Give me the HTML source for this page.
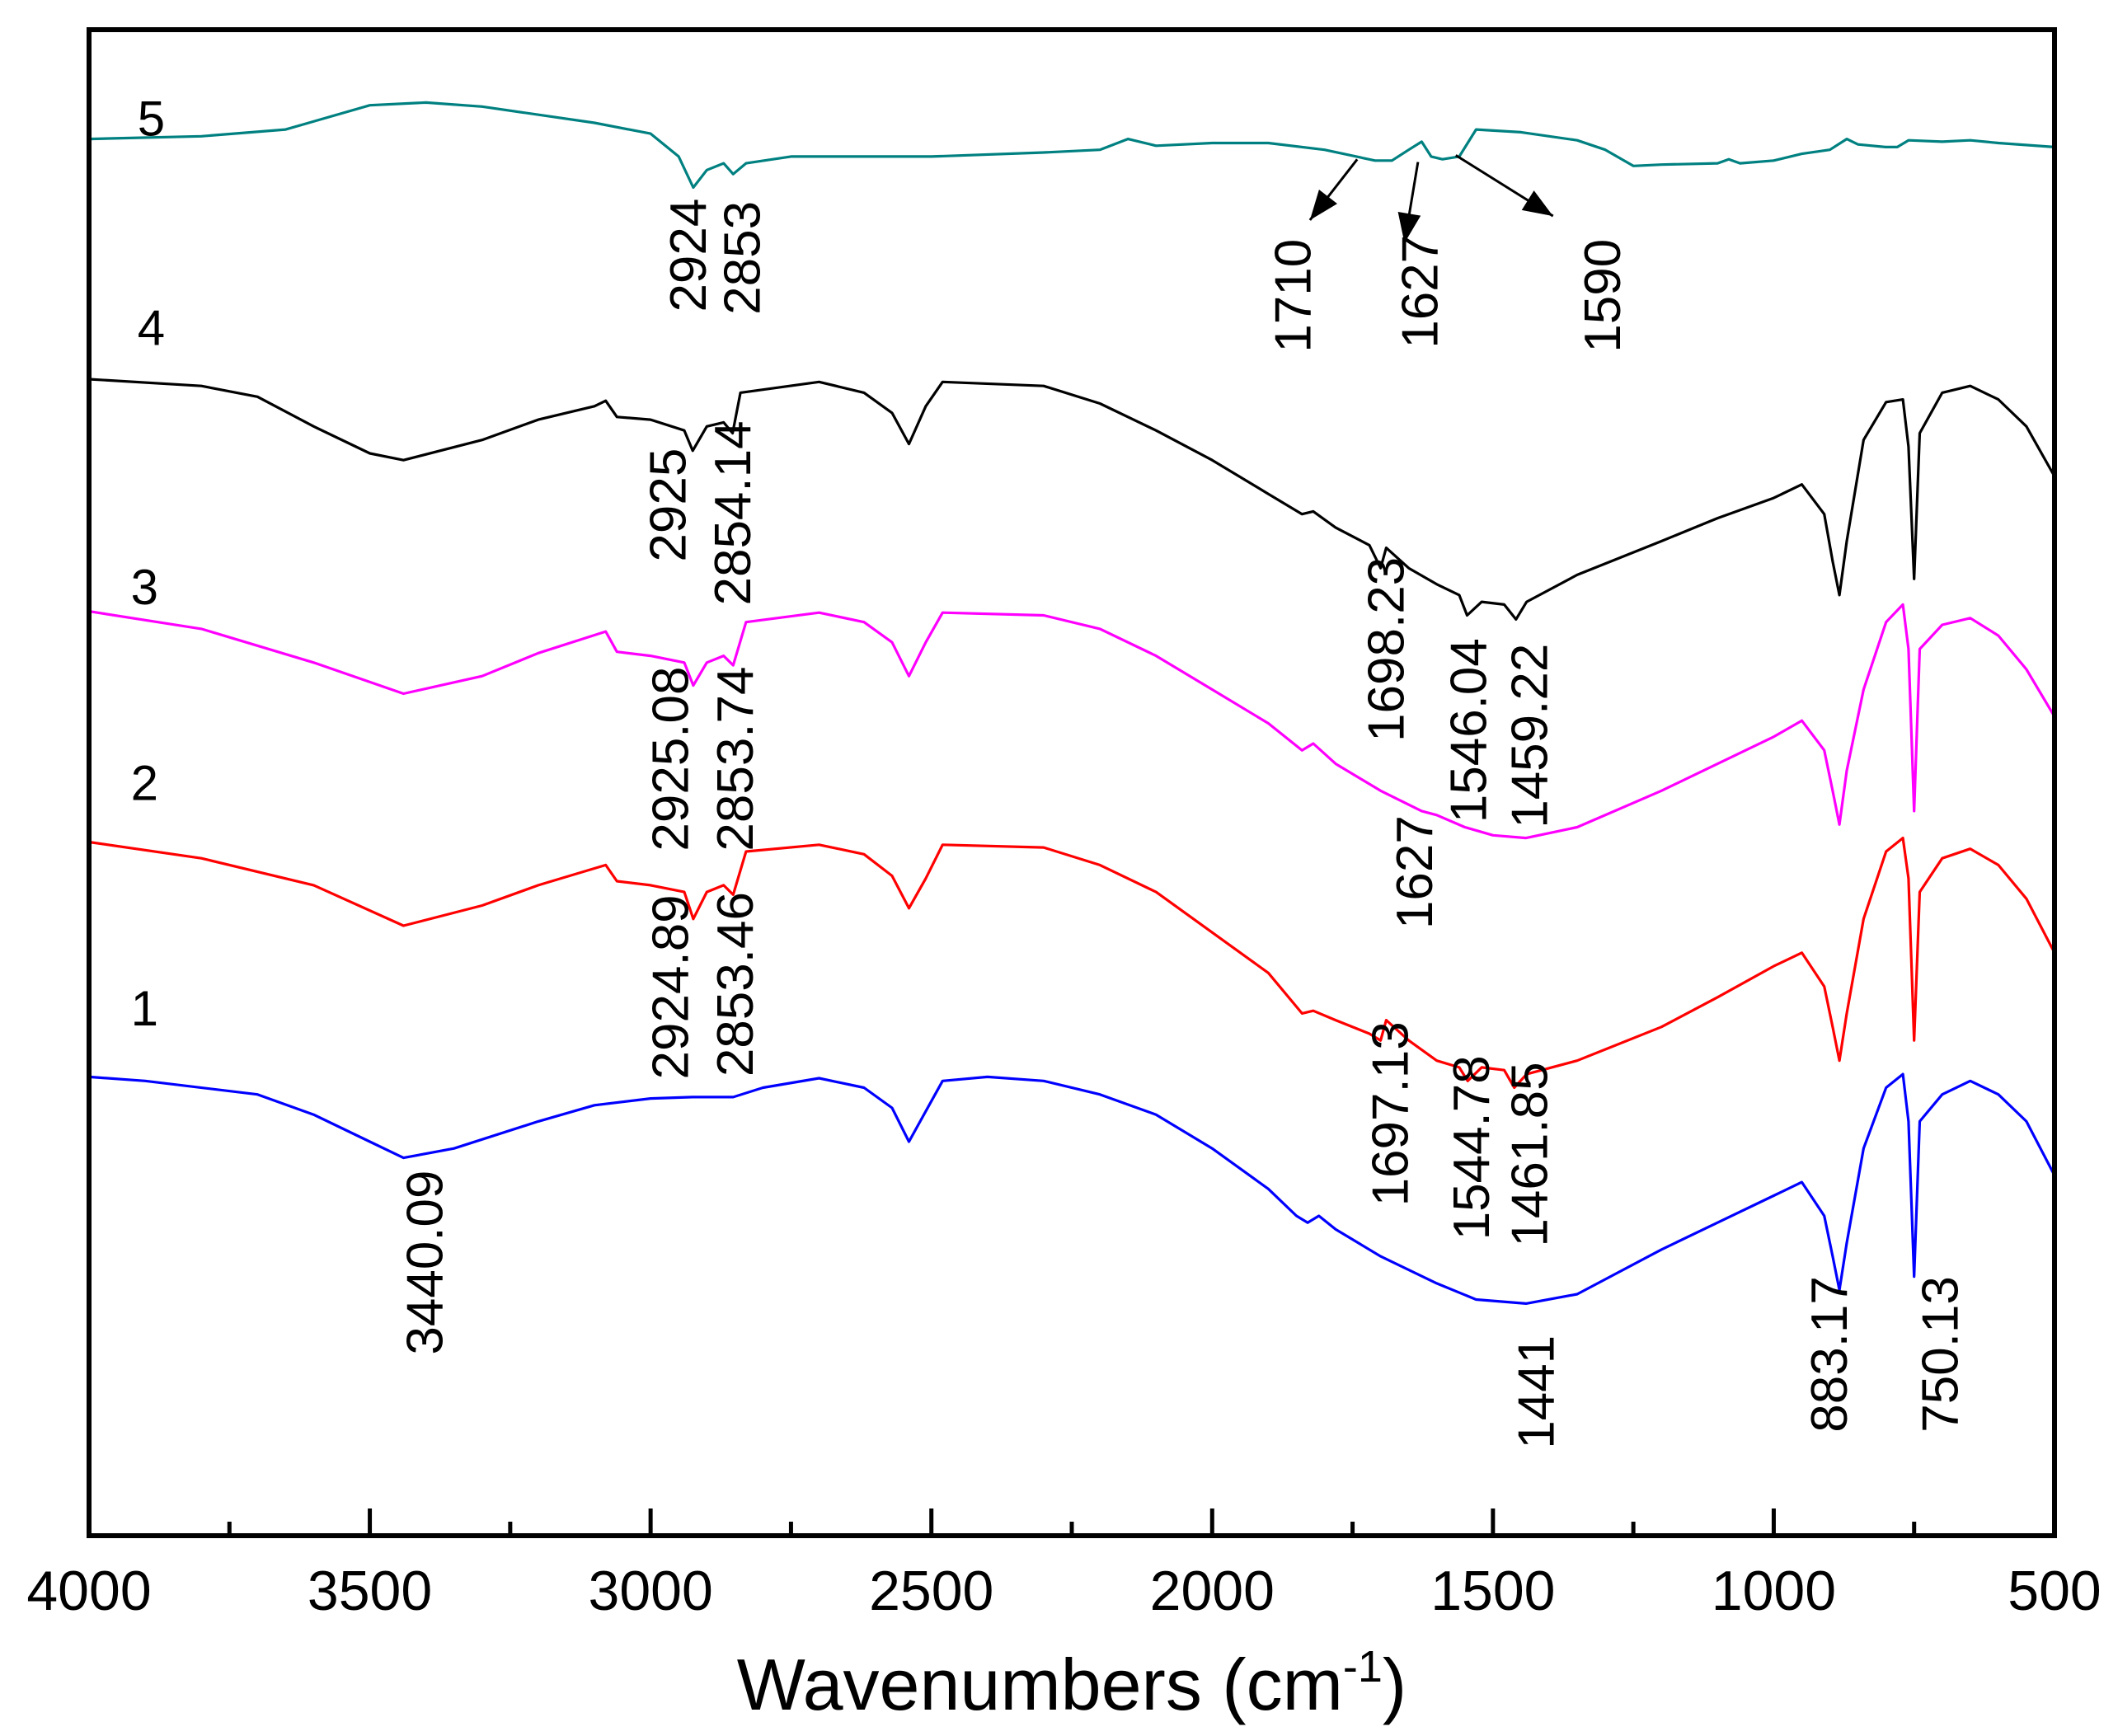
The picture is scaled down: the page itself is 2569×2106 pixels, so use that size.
<!DOCTYPE html>
<html><head><meta charset="utf-8">
<style>
html,body{margin:0;padding:0;background:#fff;}
svg{display:block;font-family:"Liberation Sans",Arial,sans-serif;}
</style></head>
<body>
<svg id="chart" width="2569" height="2106" viewBox="0 0 2569 2106" xmlns="http://www.w3.org/2000/svg">
<rect x="0" y="0" width="2569" height="2106" fill="#fff"/>
<g id="curves"></g>
<g id="annots"></g>
<rect x="108" y="36" width="2384" height="1827" fill="none" stroke="#000" stroke-width="6"/>
<g id="ticks"></g>
<text x="1300" y="2074" text-anchor="middle" font-size="88">Wavenumbers (cm<tspan dy="-34" font-size="54">-1</tspan><tspan dy="34">)</tspan></text>
</svg>
<script>
// ---- data (wavenumber cm-1, transmittance in arbitrary offset units; larger = lower on plot) ----
const wn1 = [4000,3900,3700,3600,3500,3440,3350,3200,3100,3000,2925,2853,2800,2700,2620,2570,2540,2520,2480,2400,2300,2200,2100,2000,1900,1850,1830,1810,1780,1700,1600,1530,1441,1350,1200,1100,1000,950,910,895,883,870,840,800,770,760,750,740,700,650,600,550,500];
const s1 = [797,800,810,825,845,857,850,830,818,813,812,812,805,798,805,820,845,830,800,797,800,810,825,850,880,900,905,900,910,930,950,962,965,958,925,905,885,875,900,930,955,920,850,805,795,830,945,830,810,800,810,830,870];
const wn2 = [4000,3800,3600,3440,3300,3200,3080,3060,3000,2940,2924,2900,2870,2853,2830,2700,2620,2570,2540,2510,2480,2300,2200,2100,2000,1900,1840,1820,1780,1720,1700,1690,1650,1600,1560,1545,1520,1480,1462,1440,1350,1200,1100,1000,950,910,895,883,870,840,800,770,760,750,740,700,650,600,550,500];
const s2 = [623,635,655,685,670,655,640,652,655,660,680,660,655,662,630,625,632,648,672,650,625,627,640,660,690,720,750,748,755,765,770,755,770,785,790,800,790,792,805,795,785,760,738,715,705,730,760,785,750,680,630,620,650,770,660,635,628,640,665,705];
const wn3 = [4000,3800,3600,3440,3300,3200,3080,3060,3000,2940,2924,2900,2870,2853,2830,2700,2620,2570,2540,2510,2480,2300,2200,2100,2000,1900,1840,1820,1780,1700,1627,1600,1550,1500,1441,1350,1200,1100,1000,950,910,895,883,870,840,800,770,760,750,740,700,650,600,550,500];
const s3 = [452,465,490,513,500,483,467,482,485,490,507,490,485,492,460,453,460,475,500,475,453,455,465,485,510,535,555,550,565,585,600,603,612,618,620,612,585,565,545,533,555,585,610,570,510,460,447,480,600,480,462,457,470,495,530];
const wn4 = [4000,3800,3700,3600,3500,3440,3300,3200,3100,3080,3060,3000,2940,2925,2900,2870,2854,2840,2700,2620,2570,2540,2510,2480,2300,2200,2100,2000,1900,1840,1820,1780,1720,1700,1690,1650,1600,1560,1546,1520,1480,1459,1440,1350,1200,1100,1000,950,910,895,883,870,840,800,770,760,750,740,700,650,600,550,500];
const s4 = [280,285,293,315,335,340,325,310,300,296,308,310,318,333,315,312,320,290,282,290,305,328,300,282,285,298,318,340,365,380,378,390,403,420,405,420,432,440,455,445,447,458,445,425,400,383,368,358,380,415,440,400,325,297,295,330,428,320,290,285,295,315,352];
const wn5 = [4000,3800,3650,3500,3400,3300,3100,3000,2950,2924,2900,2870,2853,2830,2750,2500,2300,2200,2150,2100,2000,1900,1800,1710,1680,1650,1627,1610,1590,1560,1530,1450,1350,1300,1250,1200,1100,1080,1060,1000,950,900,870,850,800,780,760,700,650,600,500];
const s5 = [102,100,95,77,75,78,90,98,115,138,125,120,128,120,115,115,112,110,102,107,105,105,110,118,118,110,104,115,117,115,95,97,103,110,122,121,120,117,120,118,113,110,102,106,108,108,103,104,103,105,108];
const xTicks = [4000,3500,3000,2500,2000,1500,1000,500];
const xTickLabels = ["4000","3500","3000","2500","2000","1500","1000","500"];
const seriesNames = ["1","2","3","4","5"];

// ---- axes ----
const X0=108, X1=2492, Y0=36, Y1=1863;
function xs(w){ return X0 + (4000-w)*(X1-X0)/3500; }
function ys(v){ return Y0 + (v-21)*(Y1-Y0)/(1137-21); }
const NS="http://www.w3.org/2000/svg";
const S=1.638;

const series=[
 {wn:wn1,v:s1,c:"#0000ff",name:"series-1-curve"},
 {wn:wn2,v:s2,c:"#ff0000",name:"series-2-curve"},
 {wn:wn3,v:s3,c:"#ff00ff",name:"series-3-curve"},
 {wn:wn4,v:s4,c:"#000000",name:"series-4-curve"},
 {wn:wn5,v:s5,c:"#008080",name:"series-5-curve"}
];
const cg=document.getElementById("curves");
series.forEach(s=>{
  const p=document.createElementNS(NS,"path");
  let d="";
  for(let i=0;i<s.wn.length;i++){ d+=(i?"L":"M")+xs(s.wn[i]).toFixed(1)+","+ys(s.v[i]).toFixed(1); }
  p.setAttribute("d",d);
  p.setAttribute("fill","none");
  p.setAttribute("stroke",s.c);
  p.setAttribute("stroke-width","3.2");
  p.setAttribute("stroke-linejoin","round");
  
  
  cg.appendChild(p);
});

// ---- ticks ----
const tg=document.getElementById("ticks");
for(let w=4000; w>=500; w-=250){
  const major = (w%500===0);
  const l=document.createElementNS(NS,"line");
  l.setAttribute("x1",xs(w)); l.setAttribute("x2",xs(w));
  l.setAttribute("y1",Y1); l.setAttribute("y2",Y1-(major?33:17));
  l.setAttribute("stroke","#000"); l.setAttribute("stroke-width","5");
  
  
  tg.appendChild(l);
}
xTicks.forEach((w,i)=>{
  const t=document.createElementNS(NS,"text");
  t.setAttribute("x",xs(w)); t.setAttribute("y",1953);
  t.setAttribute("text-anchor","middle"); t.setAttribute("font-size","68");
  t.textContent=xTickLabels[i];
  
  
  tg.appendChild(t);
});

// ---- annotations (display coords * S) ----
const ag=document.getElementById("annots");
const rot=[
 ["2924",510,189],["2853",550,191],["1710",958,219],["1627",1052,216],["1590",1187,219],
 ["2925",495,374],["2854.14",543,380],
 ["2925.08",497,562],["2853.74",545,562],["1698.23",1027,481],["1546.04",1088,541],["1459.22",1133,545],["1627",1048,646],
 ["2924.89",497,731],["2853.46",545,729],["1697.13",1030,825],["1544.78",1090,850],["1461.85",1133,855],
 ["3440.09",315,935],["1441",1138,1031],["883.17",1355,1003],["750.13",1437,1003]
];
rot.forEach(r=>{
  const t=document.createElementNS(NS,"text");
  const cx=r[1]*S, cy=r[2]*S;
  t.setAttribute("x",cx); t.setAttribute("y",cy);
  t.setAttribute("text-anchor","middle"); t.setAttribute("dominant-baseline","central");
  t.setAttribute("font-size","62");
  t.setAttribute("transform","rotate(-90 "+cx+" "+cy+")");
  t.textContent=r[0];
  
  
  ag.appendChild(t);
});
const lab=[[112,88],[112,243],[107,435],[107,580],[107,747]];
[4,3,2,1,0].forEach((k,i)=>{
  const t=document.createElementNS(NS,"text");
  t.setAttribute("x",lab[i][0]*S); t.setAttribute("y",lab[i][1]*S);
  t.setAttribute("text-anchor","middle"); t.setAttribute("dominant-baseline","central");
  t.setAttribute("font-size","60");
  t.textContent=seriesNames[k];
  
  
  ag.appendChild(t);
});
const arrows=[[1005,118,970,163],[1050,120,1040,180],[1078,115,1150,160]];
arrows.forEach(a=>{
  const x1=a[0]*S,y1=a[1]*S,x2=a[2]*S,y2=a[3]*S;
  const l=document.createElementNS(NS,"line");
  l.setAttribute("x1",x1);l.setAttribute("y1",y1);l.setAttribute("x2",x2);l.setAttribute("y2",y2);
  l.setAttribute("stroke","#000");l.setAttribute("stroke-width","3");
  
  
  ag.appendChild(l);
  const ang=Math.atan2(y2-y1,x2-x1), L=36, W=14;
  const bx=x2-L*Math.cos(ang), by=y2-L*Math.sin(ang);
  const px=-Math.sin(ang)*W, py=Math.cos(ang)*W;
  const h=document.createElementNS(NS,"polygon");
  h.setAttribute("points",x2+","+y2+" "+(bx+px)+","+(by+py)+" "+(bx-px)+","+(by-py));
  h.setAttribute("fill","#000");
  
  
  ag.appendChild(h);
});
</script>
</body></html>
